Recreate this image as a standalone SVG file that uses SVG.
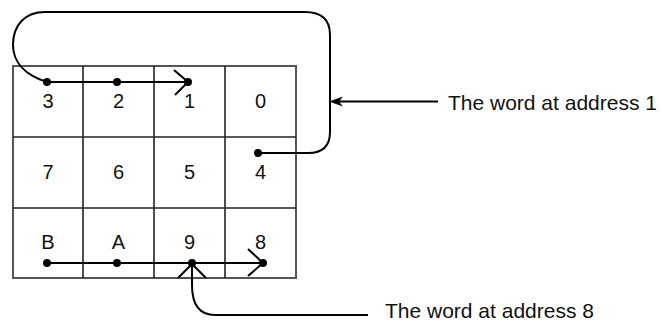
<svg xmlns="http://www.w3.org/2000/svg" width="660" height="323" viewBox="0 0 660 323">
<style>
.cell{fill:#fff;stroke:#333;stroke-width:1.5}
.grid{fill:none;stroke:#555;stroke-width:2}
.inner{stroke:#222;stroke-width:1.6}
.t{font-family:"Liberation Sans",Arial,sans-serif;font-size:20px;fill:#111;text-anchor:middle}
.lbl{font-family:"Liberation Sans",Arial,sans-serif;font-size:21px;fill:#111}
.ln{fill:none;stroke:#000;stroke-width:2}
.dot{fill:#000}
</style>
<g id="grid">
<rect class="grid" x="13" y="66" width="283" height="212"/>
<line class="inner" x1="83" y1="66" x2="83" y2="278"/>
<line class="inner" x1="154" y1="66" x2="154" y2="278"/>
<line class="inner" x1="225" y1="66" x2="225" y2="278"/>
<line class="inner" x1="13" y1="137" x2="296" y2="137"/>
<line class="inner" x1="13" y1="208" x2="296" y2="208"/>
</g>
<g id="cells">
<g id="c3"><text class="t" x="48" y="108">3</text></g>
<g id="c2"><text class="t" x="118.5" y="108">2</text></g>
<g id="c1"><text class="t" x="189.5" y="108">1</text></g>
<g id="c0"><text class="t" x="260.5" y="108">0</text></g>
<g id="c7"><text class="t" x="48" y="179">7</text></g>
<g id="c6"><text class="t" x="118.5" y="179">6</text></g>
<g id="c5"><text class="t" x="189.5" y="179">5</text></g>
<g id="c4"><text class="t" x="260.5" y="179">4</text></g>
<g id="cB"><text class="t" x="48" y="249">B</text></g>
<g id="cA"><text class="t" x="118.5" y="249">A</text></g>
<g id="c9"><text class="t" x="189.5" y="249">9</text></g>
<g id="c8"><text class="t" x="260.5" y="249">8</text></g>
</g>
<g id="connectors">
<path class="ln" d="M47,82 L188,82"/>
<path class="ln" d="M174,70 L188,82 L175,95"/>
<path class="ln" d="M47,82 C25,75 13,62 13,45 C13,25 25,12 45,12 L305,12 C322,12 330,20 330,35 L330,132 C330,146 322,153 308,153 L258,153"/>
<path class="ln" d="M47,263 L263,263"/>
<path class="ln" d="M248,249 L263,263 L248,276"/>
<path class="ln" d="M368,315 L215,315 C200,315 192,305 192,285 L192,264"/>
<path class="ln" d="M178,278 L192,264 L206,278"/>
<path class="ln" d="M438,101.5 L336,101.5"/>
<polygon fill="#000" points="329,101.5 343,96.5 339,101.5 343,106.5"/>
<circle class="dot" cx="47" cy="82" r="4"/>
<circle class="dot" cx="117" cy="82" r="4"/>
<circle class="dot" cx="188" cy="82" r="4"/>
<circle class="dot" cx="258" cy="153" r="4"/>
<circle class="dot" cx="47" cy="263" r="4"/>
<circle class="dot" cx="117" cy="263" r="4"/>
<circle class="dot" cx="192" cy="263" r="4"/>
<circle class="dot" cx="263" cy="263" r="4"/>
</g>
<g id="label1"><text class="lbl" x="448" y="110">The word at address 1</text></g>
<g id="label8"><text class="lbl" x="385" y="318">The word at address 8</text></g>
</svg>
